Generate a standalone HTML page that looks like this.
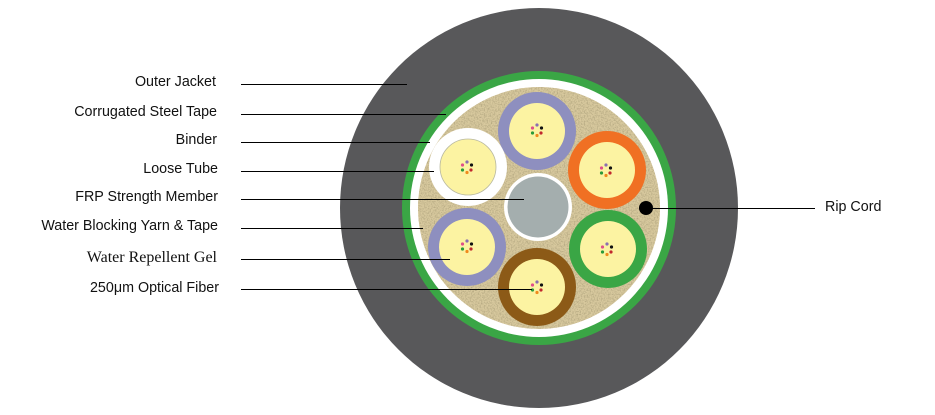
<!DOCTYPE html>
<html><head><style>
html,body{margin:0;padding:0;background:#fff;width:935px;height:415px;overflow:hidden}
.t{position:absolute;font-family:"Liberation Sans",sans-serif;font-size:14.3px;color:#111;text-align:right;width:220px;left:0}
</style></head><body>
<div class="t" style="top:74px;left:-4px">Outer Jacket</div>
<div class="t" style="top:104px;left:-3px">Corrugated Steel Tape</div>
<div class="t" style="top:132px;left:-3px">Binder</div>
<div class="t" style="top:161px;left:-2px">Loose Tube</div>
<div class="t" style="top:189px;left:-2px">FRP Strength Member</div>
<div class="t" style="top:218px;left:-2px">Water Blocking Yarn &amp; Tape</div>
<div class="t" style="top:249px;left:-3px;font-family:'Liberation Serif',serif;font-size:16px">Water Repellent Gel</div>
<div class="t" style="top:280px;left:-1px">250μm Optical Fiber</div>
<div class="t" style="top:199px;left:825px;text-align:left;width:100px">Rip Cord</div>
<svg width="935" height="415" style="position:absolute;left:0;top:0">
<defs>
<filter id="n" x="0" y="0" width="100%" height="100%">
<feTurbulence type="fractalNoise" baseFrequency="0.7" numOctaves="2" seed="3"/>
<feColorMatrix values="0 0 0 0 0.42  0 0 0 0 0.36  0 0 0 0 0.2  0 0 0 2 -0.8"/>
</filter>
<clipPath id="c"><circle cx="539" cy="208" r="121"/></clipPath>
<g id="f">
<circle cx="0" cy="-5" r="1.6" fill="#8a6fb0"/><circle cx="4.5" cy="-2" r="1.6" fill="#111"/>
<circle cx="4" cy="3" r="1.6" fill="#c0282d"/><circle cx="0" cy="5.5" r="1.6" fill="#f08a1c"/>
<circle cx="-4.5" cy="3" r="1.6" fill="#2a9a3a"/><circle cx="-4.5" cy="-2" r="1.6" fill="#e0508a"/>
</g>
</defs>
<ellipse cx="539" cy="208" rx="199" ry="200" fill="#58585a"/>
<circle cx="539" cy="208" r="137" fill="#3aa645"/>
<circle cx="539" cy="208" r="129" fill="#fff"/>
<circle cx="539" cy="208" r="121" fill="#d8c99e"/>
<rect x="410" y="80" width="260" height="260" filter="url(#n)" clip-path="url(#c)"/>
<circle cx="538" cy="207" r="34" fill="#fff"/><circle cx="538" cy="207" r="30.5" fill="#a4aeae"/>
<g>
<circle cx="537" cy="131" r="39" fill="#8e8fbf"/><circle cx="537" cy="131" r="28" fill="#fcf3a2"/>
<circle cx="607" cy="170" r="39" fill="#f07023"/><circle cx="607" cy="170" r="28" fill="#fcf3a2"/>
<circle cx="468" cy="167" r="39" fill="#fff"/><circle cx="468" cy="167" r="28" fill="#fcf3a2" stroke="#b8b8a0" stroke-width="0.8"/>
<circle cx="467" cy="247" r="39" fill="#8e8fbf"/><circle cx="467" cy="247" r="28" fill="#fcf3a2"/>
<circle cx="608" cy="249" r="39" fill="#3aa645"/><circle cx="608" cy="249" r="28" fill="#fcf3a2"/>
<circle cx="537" cy="287" r="39" fill="#8c5a17"/><circle cx="537" cy="287" r="28" fill="#fcf3a2"/>
</g>
<use href="#f" x="537" y="130"/><use href="#f" x="606" y="170"/><use href="#f" x="467" y="167"/>
<use href="#f" x="467" y="246"/><use href="#f" x="607" y="249"/><use href="#f" x="537" y="287"/>
<circle cx="646" cy="208" r="7" fill="#000"/>
<g stroke="#000" stroke-width="1">
<line x1="241" y1="84.5" x2="407" y2="84.5"/>
<line x1="241" y1="114.5" x2="446" y2="114.5"/>
<line x1="241" y1="142.5" x2="430" y2="142.5"/>
<line x1="241" y1="171.5" x2="434" y2="171.5"/>
<line x1="241" y1="199.5" x2="524" y2="199.5"/>
<line x1="241" y1="228.5" x2="423" y2="228.5"/>
<line x1="241" y1="259.5" x2="450" y2="259.5"/>
<line x1="241" y1="289.5" x2="532" y2="289.5"/>
<line x1="646" y1="208.5" x2="815" y2="208.5"/>
</g>
</svg>
</body></html>
